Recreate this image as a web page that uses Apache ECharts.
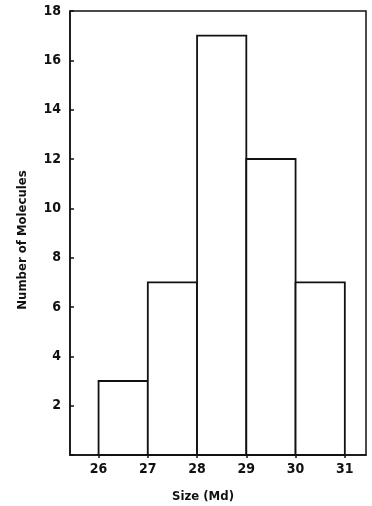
<!DOCTYPE html>
<html>
<head>
<meta charset="utf-8">
<script src="https://cdn.jsdelivr.net/npm/echarts@6/dist/echarts.min.js"></script>
<style>html,body{margin:0;padding:0;background:#fff;}#c{width:372px;height:506px;}</style>
</head>
<body>
<div id="c"></div>
<script>
var binStarts = [26, 27, 28, 29, 30];
var binEnds = [27, 28, 29, 30, 31];
var counts = [3, 7, 17, 12, 7];
var xTicks = [26, 27, 28, 29, 30, 31];
var yTicks = [2, 4, 6, 8, 10, 12, 14, 16, 18];

var data = binStarts.map(function (s, i) { return [s, binEnds[i], counts[i]]; });
var font = '"DejaVu Sans Condensed", "DejaVu Sans", sans-serif';
var numFont = '"Liberation Sans Narrow", "DejaVu Sans Condensed", sans-serif';
var chart = echarts.init(document.getElementById('c'));
chart.setOption({
  animation: false,
  backgroundColor: '#fff',
  grid: { left: 70, right: 6, top: 11, bottom: 51, outerBoundsMode: 'none', containLabel: false, show: true, borderColor: '#111', borderWidth: 1.5, backgroundColor: 'transparent' },
  xAxis: {
    type: 'value', min: 25.42, max: 31.43,
    name: 'Size (Md)', nameLocation: 'middle', nameGap: 35,
    nameTextStyle: { fontFamily: font, fontWeight: 'bold', fontSize: 13, color: '#111', padding: [0, 30, 0, 0] },
    axisLine: { show: true, lineStyle: { color: '#111', width: 1.5 } },
    axisTick: { show: true, customValues: xTicks, length: 3, inside: false, lineStyle: { color: '#111', width: 1.5 } },
    axisLabel: { customValues: xTicks, fontFamily: numFont, fontWeight: 'bold', fontSize: 14, color: '#111', margin: 7 },
    splitLine: { show: false }
  },
  yAxis: {
    type: 'value', min: 0, max: 18, interval: 2,
    name: 'Number of Molecules', nameLocation: 'middle', nameGap: 41,
    nameTextStyle: { fontFamily: font, fontWeight: 'bold', fontSize: 13, color: '#111', padding: [0, 14, 0, 0] },
    axisLine: { show: true, lineStyle: { color: '#111', width: 1.5 } },
    axisTick: { show: true, inside: true, length: 4, lineStyle: { color: '#111', width: 1.5 } },
    axisLabel: { fontFamily: numFont, fontWeight: 'bold', fontSize: 14, color: '#111', margin: 9,
      formatter: function (v) { return yTicks.indexOf(v) >= 0 ? String(v) : ''; } },
    splitLine: { show: false }
  },
  series: [{
    type: 'custom',
    data: data,
    encode: { x: [0, 1], y: 2 },
    renderItem: function (params, api) {
      var p0 = api.coord([api.value(0), 0]);
      var p1 = api.coord([api.value(1), api.value(2)]);
      return {
        type: 'rect',
        shape: { x: p0[0], y: p1[1], width: p1[0] - p0[0], height: p0[1] - p1[1] },
        style: { fill: '#fff', stroke: '#111', lineWidth: 1.8 }
      };
    }
  }]
});
</script>
</body>
</html>
